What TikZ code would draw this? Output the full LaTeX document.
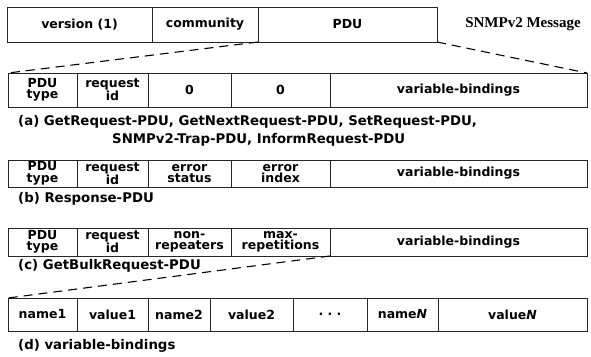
\documentclass[tikz,border=0pt]{standalone}
\usepackage{fontspec}
\setmainfont{DejaVu Sans}
\newfontfamily\msgserif{Liberation Serif}
\begin{document}
\begin{tikzpicture}[x=1pt,y=-1pt,
  cell/.style={draw=black!85, line width=0.7pt, rectangle, inner sep=0pt, outer sep=0pt,
    anchor=north west, align=center, font=\bfseries\fontsize{12.5}{11.5}\selectfont},
  link/.style={draw=black, line width=1.1pt, dash pattern=on 9pt off 6pt},
  captext/.style={anchor=west, inner sep=0pt, font=\bfseries\fontsize{13.3}{14}\selectfont}]
\useasboundingbox (0,0) rectangle (591,356);
% top row
\node[cell, minimum width=145, minimum height=35] (ver) at (7,7) {version (1)};
\node[cell, minimum width=106, minimum height=35] (com) at (152,7) {community};
\node[cell, minimum width=179, minimum height=35] (pdu) at (258,7) {PDU};
\node[font=\msgserif\bfseries\fontsize{15}{15}\selectfont] (msg) at (523,24) {SNMPv2 Message};
% row a
\node[cell, minimum width=69, minimum height=34] (a1) at (8,73) {PDU\\type};
\node[cell, minimum width=71, minimum height=34] (a2) at (77,73) {request\\id};
\node[cell, minimum width=83, minimum height=34] (a3) at (148,73) {0};
\node[cell, minimum width=99, minimum height=34] (a4) at (231,73) {0};
\node[cell, minimum width=257, minimum height=34] (a5) at (330,73) {variable-bindings};
\node[captext] (capa1) at (18,122) {(a) GetRequest-PDU, GetNextRequest-PDU, SetRequest-PDU,};
\node[captext] (capa2) at (112,140) {SNMPv2-Trap-PDU, InformRequest-PDU};
% row b
\node[cell, minimum width=69, minimum height=27] (b1) at (8,160) {PDU\\type};
\node[cell, minimum width=71, minimum height=27] (b2) at (77,160) {request\\id};
\node[cell, minimum width=83, minimum height=27] (b3) at (148,160) {error\\status};
\node[cell, minimum width=99, minimum height=27] (b4) at (231,160) {error\\index};
\node[cell, minimum width=257, minimum height=27] (b5) at (330,160) {variable-bindings};
\node[captext] (capb) at (18,199) {(b) Response-PDU};
% row c
\node[cell, minimum width=69, minimum height=28] (c1) at (8,228) {PDU\\type};
\node[cell, minimum width=71, minimum height=28] (c2) at (77,228) {request\\id};
\node[cell, minimum width=83, minimum height=28] (c3) at (148,228) {non-\\repeaters};
\node[cell, minimum width=99, minimum height=28] (c4) at (231,228) {max-\\repetitions};
\node[cell, minimum width=257, minimum height=28] (c5) at (330,228) {variable-bindings};
\node[captext] (capc) at (18,266) {(c) GetBulkRequest-PDU};
% row d
\node[cell, minimum width=69, minimum height=33] (d1) at (8,298) {name1};
\node[cell, minimum width=71, minimum height=33] (d2) at (77,298) {value1};
\node[cell, minimum width=62, minimum height=33] (d3) at (148,298) {name2};
\node[cell, minimum width=83, minimum height=33] (d4) at (210,298) {value2};
\node[cell, minimum width=74, minimum height=33] (d5) at (293,298) {.\,\,.\,\,.};
\node[cell, minimum width=71, minimum height=33] (d6) at (367,298) {name\textit{N}};
\node[cell, minimum width=149, minimum height=33] (d7) at (438,298) {value\textit{N}};
\node[captext] (capd) at (18,346) {(d) variable-bindings};
% dashed connectors
\draw[link] (pdu.south west) -- (a1.north west);
\draw[link] (pdu.south east) -- (a5.north east);
\draw[link] (c5.south west) -- (d1.north west);
\end{tikzpicture}
\end{document}
